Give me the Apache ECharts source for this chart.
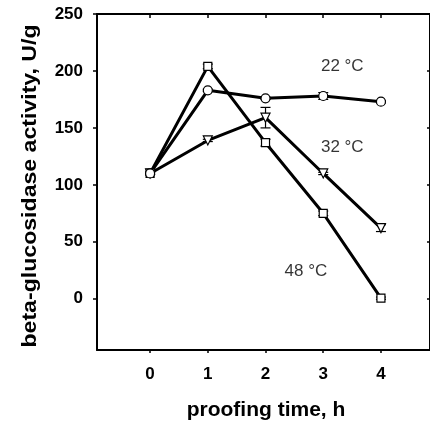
<!DOCTYPE html>
<html><head><meta charset="utf-8">
<script src="https://cdn.jsdelivr.net/npm/echarts@6/dist/echarts.min.js"></script>
<style>html,body{margin:0;padding:0;background:#fff}#c{width:430px;height:429px}</style>
</head><body><div id="c"></div>
<script>
var times = [0, 1, 2, 3, 4];
var yTicks = [0, 50, 100, 150, 200, 250];
var s22 = [110, 183, 176, 178, 173];
var s32 = [110, 139, 159, 110, 62];
var s48 = [110, 204, 137, 75, 0.5];
var e22 = [1, 1, 1, 3, 1];
var e32 = [1, 1, 9, 1, 3];
var e48 = [1, 2, 3, 2, 1];
var labels = [{text: '22 °C', x: 2.96, y: 204.5}, {text: '32 °C', x: 2.96, y: 132.7}, {text: '48 °C', x: 2.33, y: 24.5}];
var yName = 'beta-glucosidase activity, U/g';
var xName = 'proofing time, h';

var chart = echarts.init(document.getElementById('c'));
function pts(arr){ return times.map(function(t,i){ return [t, arr[i]]; }); }
function errData(arr, err){ return times.map(function(t,i){ return [t, arr[i]-err[i], arr[i]+err[i]]; }); }
function errSeries(arr, err){
  return {
    type: 'custom', z: 1,
    data: errData(arr, err),
    renderItem: function(params, api){
      var x = api.value(0);
      var lo = api.coord([x, api.value(1)]);
      var hi = api.coord([x, api.value(2)]);
      var w = 5;
      var st = {stroke: '#000', lineWidth: 1.2};
      return {type: 'group', children: [
        {type: 'line', shape: {x1: lo[0], y1: lo[1], x2: hi[0], y2: hi[1]}, style: st},
        {type: 'line', shape: {x1: lo[0]-w, y1: lo[1], x2: lo[0]+w, y2: lo[1]}, style: st},
        {type: 'line', shape: {x1: hi[0]-w, y1: hi[1], x2: hi[0]+w, y2: hi[1]}, style: st}
      ]};
    }
  };
}
function lineSeries(arr, sym, size){
  return {
    type: 'line', data: pts(arr), symbol: sym, symbolSize: size, z: 3,
    lineStyle: {color: '#000', width: 3},
    itemStyle: {color: '#fff', borderColor: '#000', borderWidth: 1.2},
    showAllSymbol: true, animation: false
  };
}
var xMin = -0.92, xMax = 4.85, yMin = -45, yMax = 250;
var ff = 'Liberation Sans, Arial, sans-serif';
var lbl = {fontFamily: ff, fontWeight: 'bold', fontSize: 17, color: '#000'};
chart.setOption({
  animation: false,
  grid: {left: 97, top: 14, width: 334, height: 336},
  graphic: [{
    type: 'text', x: 30, y: 186, rotation: Math.PI / 2, scaleX: 1.1,
    style: {text: yName, font: 'bold 21px ' + ff, fill: '#000', align: 'center', verticalAlign: 'middle'}
  }],
  xAxis: [{
    type: 'value', min: xMin, max: xMax, position: 'bottom',
    name: xName, nameLocation: 'middle', nameGap: 50,
    nameTextStyle: {fontFamily: ff, fontWeight: 'bold', fontSize: 21, color: '#000', padding: [0, 0, 0, 5]},
    axisLine: {show: true, onZero: false, lineStyle: {color: '#000', width: 2}},
    axisTick: {show: true, inside: false, length: 3, customValues: times, lineStyle: {color: '#000', width: 1.5}},
    axisLabel: Object.assign({customValues: times, margin: 16}, lbl),
    splitLine: {show: false}
  }, {
    type: 'value', min: xMin, max: xMax, position: 'top',
    axisLine: {show: true, onZero: false, lineStyle: {color: '#000', width: 2}},
    axisTick: {show: true, inside: true, length: 4, customValues: times, lineStyle: {color: '#000', width: 1.5}},
    axisLabel: {show: false}, splitLine: {show: false}
  }],
  yAxis: [{
    type: 'value', min: yMin, max: yMax, position: 'left',
    axisLine: {show: true, onZero: false, lineStyle: {color: '#000', width: 2}},
    axisTick: {show: true, inside: false, length: 4, customValues: yTicks, lineStyle: {color: '#000', width: 1.5}},
    axisLabel: Object.assign({customValues: yTicks, margin: 14}, lbl),
    splitLine: {show: false}
  }, {
    type: 'value', min: yMin, max: yMax, position: 'right',
    axisLine: {show: true, onZero: false, lineStyle: {color: '#000', width: 2}},
    axisTick: {show: true, inside: true, length: 3, customValues: yTicks, lineStyle: {color: '#000', width: 1.5}},
    axisLabel: {show: false}, splitLine: {show: false}
  }],
  series: [
    errSeries(s48, e48), errSeries(s32, e32), errSeries(s22, e22),
    lineSeries(s48, 'rect', 8),
    lineSeries(s32, 'path://M0,0 L10,0 L5,9 Z', 9),
    lineSeries(s22, 'circle', 9),
    {
      type: 'scatter', symbolSize: 0, z: 5,
      data: labels.map(function(l){ return {value: [l.x, l.y], name: l.text}; }),
      label: {show: true, position: 'right', distance: 0, formatter: function(p){ return p.name; },
        fontFamily: ff, fontSize: 17, color: '#000'}
    }
  ]
});
</script></body></html>
